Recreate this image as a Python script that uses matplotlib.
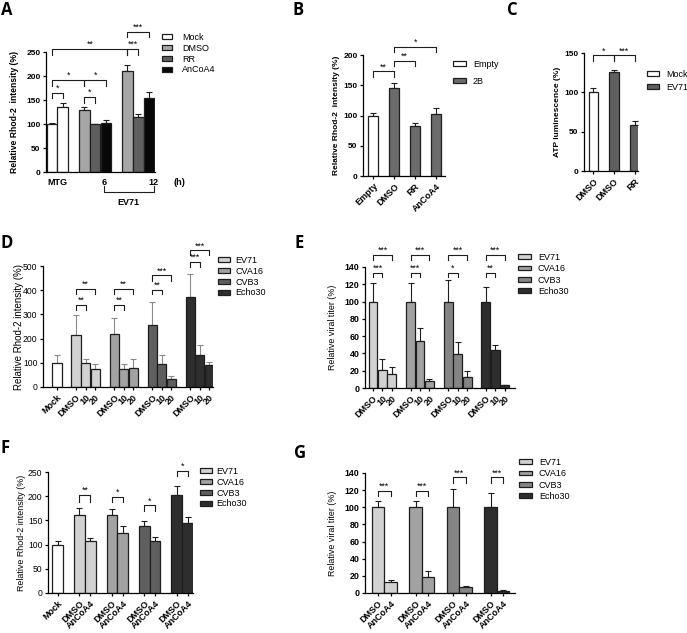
import numpy as np
import matplotlib
matplotlib.use("Agg")
import matplotlib.pyplot as plt
from matplotlib.patches import Patch
from matplotlib import transforms

plt.rcParams['font.family'] = ['Liberation Sans', 'DejaVu Sans']

W, H = 687, 633
fig = plt.figure(figsize=(W / 100, H / 100), dpi=100)

# ---------------- data ----------------
# A : Rhod-2, MTG / EV71 time course
a_groups = [['Mock', 'Mock'], ['DMSO', 'RR', 'AnCoA4'], ['DMSO', 'RR', 'AnCoA4']]
a_vals = [100, 136, 130, 99, 103, 211, 114, 155]
a_err = [2, 8, 6, 2, 5, 11, 6, 12]
a_legend = ['Mock', 'DMSO', 'RR', 'AnCoA4']
a_xlabels = ['MTG', '6', '12']

# B : 2B overexpression
b_labels = ['Empty', 'DMSO', 'RR', 'AnCoA4']
b_vals = [100, 146, 82, 102]
b_err = [4, 7, 6, 10]
b_legend = ['Empty', '2B']

# C : ATP
c_labels = ['DMSO', 'DMSO', 'RR']
c_vals = [100, 126, 59]
c_err = [5, 2.5, 4]
c_legend = ['Mock', 'EV71']

viruses = ['EV71', 'CVA16', 'CVB3', 'Echo30']

# D : Rhod-2, RR dose
d_labels = ['Mock'] + ['DMSO', '10', '20'] * 4
d_mock, d_mock_err = 100, 33
d_vals = [[213, 100, 76], [220, 76, 80], [258, 96, 32], [372, 131, 92]]
d_err = [[83, 17, 18], [66, 20, 37], [93, 35, 13], [94, 44, 11]]

# E : viral titer, RR dose
e_labels = ['DMSO', '10', '20'] * 4
e_vals = [[100, 21, 16], [100, 54, 8], [100, 39, 13], [100, 44, 3]]
e_err = [[21, 13, 8], [21, 15, 2], [25, 14, 7], [17, 6, 1]]

# F : Rhod-2, AnCoA4
f_labels = ['Mock'] + ['DMSO', 'AnCoA4'] * 4
f_mock, f_mock_err = 100, 7
f_vals = [[162, 107], [162, 124], [138, 107], [202, 145]]
f_err = [[14, 7], [11, 14], [11, 9], [20, 13]]

# G : viral titer, AnCoA4
g_labels = ['DMSO', 'AnCoA4'] * 4
g_vals = [[100, 13], [100, 19], [100, 6.6], [100, 2]]
g_err = [[7, 2.5], [7, 7], [21, 2], [17, 1]]

# significance: (bar i, bar j, bracket y, leg y, text)
a_sig = [(0, 5, 256, 244, '**'), (5, 7, 292, 281, '***'), (5, 6, 256, 244, '***'),
         (0, 2, 192, 179, '*'), (2, 4, 192, 179, '*'),
         (0, 1, 165, 154, '*'), (2, 3, 156, 144, '*')]
b_sig = [(0, 1, 173, 164, '**'), (1, 2, 190, 182, '**'), (1, 3, 213, 205, '*')]
c_sig = [(0, 1, 147, 140, '*'), (1, 2, 147, 140, '***')]
d_sig = [(340, 320, '**', 404, 383, '**'), (340, 320, '**', 404, 383, '**'),
         (402, 383, '**', 461, 438, '***'), (517, 496, '***', 565, 544, '***')]
e_sig = [(133, 128, '***', 154, 148, '***'), (133, 128, '***', 154, 148, '***'),
         (133, 128, '*', 154, 148, '***'), (133, 128, '**', 154, 148, '***')]
f_sig = [(202, 189, '**'), (198, 187, '*'), (181, 169, '*'), (252, 241, '*')]
g_sig = [(119, 113, '***'), (119, 113, '***'), (135, 128, '***'), (135, 128, '***')]

# ---------------- styles ----------------
a_colors = {'Mock': 'white', 'DMSO': '#a6a6a6', 'RR': '#5f5f5f', 'AnCoA4': '#080808'}
vc_dark = ['#d2d2d2', '#a2a2a2', '#5f5f5f', '#2e2e2e']
vc_light = ['#d2d2d2', '#a2a2a2', '#858585', '#2e2e2e']
EDGE = '#1e1e1e'


def box(l, t, r, b):
    return [l / W, 1 - b / H, (r - l) / W, (b - t) / H]


def positions(sizes):
    pos, x = [], 0
    for n in sizes:
        pos += list(range(x, x + n))
        x += n + 1
    return pos


def style(ax, ylim, step, fs=6, weight='bold'):
    for s in ['top', 'right']:
        ax.spines[s].set_visible(False)
    ax.spines['left'].set_linewidth(0.9)
    ax.spines['bottom'].set_linewidth(0.9)
    ax.spines['left'].set_bounds(0, ylim)
    ax.set_ylim(0, ylim)
    ax.set_yticks(np.arange(0, ylim + 1, step))
    ax.tick_params(width=0.9, length=2.5, labelsize=fs, pad=1.5)
    for lab in ax.get_yticklabels():
        lab.set_fontweight(weight)


def bars(ax, pos, vals, err, colors, width, ecolor=EDGE):
    ax.bar(pos, vals, width, color=colors, edgecolor=EDGE, linewidth=0.9, zorder=2)
    ax.errorbar(pos, vals, yerr=[np.zeros(len(err)), err], fmt='none', ecolor=ecolor,
                elinewidth=0.8, capsize=2.2, capthick=0.8, zorder=1)


def sig(ax, x1, x2, y, leg, txt, fs=6.3):
    ax.plot([x1, x1, x2, x2], [leg, y, y, leg], color=EDGE, lw=0.8, clip_on=False)
    ax.text((x1 + x2) / 2, y, txt, ha='center', va='bottom', fontsize=fs, clip_on=False)


def legend(ax, labels, colors, x, y, spacing, hl=1.4, tp=0.7, fs=6.5):
    handles = [Patch(facecolor=c, edgecolor=EDGE, linewidth=0.9) for c in colors]
    ax.legend(handles, labels, loc='upper left', bbox_to_anchor=(x / W, 1 - y / H),
              bbox_transform=fig.transFigure, frameon=False, fontsize=fs,
              handlelength=hl, handleheight=0.45, handletextpad=tp,
              labelspacing=spacing, borderpad=0, borderaxespad=0)


def xlabels(ax, pos, labels, fs=6.5):
    ax.set_xticks(pos)
    ax.set_xticklabels(labels, rotation=45, ha='right', rotation_mode='anchor',
                       fontsize=fs, fontweight='bold')


def ylabel(ax, text, xpix, l, w, fs=6, weight='bold'):
    ax.set_ylabel(text, fontsize=fs, fontweight=weight)
    ax.yaxis.set_label_coords((xpix + 4 - l) / w, 0.5)


def letter(txt, x, y):
    fig.text(x / W, 1 - y / H, txt, fontsize=12, fontweight='bold',
             family=['Open Sans', 'DejaVu Sans'], va='top', ha='left')


# ---------------- A ----------------
ax = fig.add_axes(box(46, 52, 155, 172))
pos = positions([len(g) for g in a_groups])
cols = [a_colors[k] for g in a_groups for k in g]
bars(ax, pos, a_vals, a_err, cols, 0.98)
style(ax, 250, 50)
ax.set_xlim(-0.55, 9.55)
ax.set_xticks([0.5, 4.8, 9.45])
ax.set_xticklabels(a_xlabels, fontsize=6.5, fontweight='bold')
ax.tick_params(axis='x', length=0, pad=4)
tr = transforms.blended_transform_factory(ax.transData, ax.transAxes)
ax.text(11.85, -0.085, '(h)', transform=tr, ha='center', va='center', fontsize=6.5, fontweight='bold')
ax.plot([4.8, 4.8, 9.45, 9.45], [-0.115, -0.165, -0.165, -0.115], transform=tr,
        color=EDGE, lw=0.8, clip_on=False)
ax.text(7.12, -0.25, 'EV71', transform=tr, ha='center', va='center', fontsize=6.5, fontweight='bold')
for i, j, y, lg, t in a_sig:
    sig(ax, pos[i], pos[j], y, lg, t)
ylabel(ax, 'Relative Rhod-2  intensity (%)', 15, 46, 109, 6.2)
legend(ax, a_legend, [a_colors[k] for k in a_legend], 162, 33, 0.2, hl=1.1, tp=1.1)
letter('A', 1, 1)

# ---------------- B ----------------
ax = fig.add_axes(box(363, 55, 445, 176))
pos = np.arange(len(b_labels))
bars(ax, pos, b_vals, b_err, ['white'] + ['#6b6b6b'] * 3, 0.48)
style(ax, 200, 50)
ax.set_xlim(-0.48, 3.43)
xlabels(ax, pos, b_labels)
for i, j, y, lg, t in b_sig:
    sig(ax, pos[i], pos[j], y, lg, t)
ylabel(ax, 'Relative Rhod-2  intensity (%)', 336, 363, 82, 6.0)
legend(ax, b_legend, ['white', '#6b6b6b'], 453, 60, 0.9, hl=1.4, tp=0.8)
letter('B', 293, 1)

# ---------------- C ----------------
ax = fig.add_axes(box(584, 53, 638, 171))
pos = np.arange(len(c_labels))
bars(ax, pos, c_vals, c_err, ['white', '#5f5f5f', '#5f5f5f'], 0.48)
style(ax, 150, 50)
ax.set_xlim(-0.46, 2.17)
xlabels(ax, pos, c_labels)
for i, j, y, lg, t in c_sig:
    sig(ax, pos[i], pos[j], y, lg, t)
ylabel(ax, 'ATP luminescence (%)', 557, 584, 54, 6.0)
legend(ax, c_legend, ['white', '#5f5f5f'], 647, 70, 0.4, hl=1.3, tp=0.8)
letter('C', 507, 1)

# ---------------- D ----------------
ax = fig.add_axes(box(43, 266, 213, 387))
pos = positions([1, 3, 3, 3, 3])
vals = [d_mock] + [v for g in d_vals for v in g]
errs = [d_mock_err] + [e for g in d_err for e in g]
cols = ['white'] + [c for c in vc_dark for _ in range(3)]
bars(ax, pos, vals, errs, cols, 0.95, ecolor='#8a8a8a')
style(ax, 500, 100, fs=6.2, weight='normal')
ax.set_xlim(-1.47, 16.4)
xlabels(ax, pos, d_labels)
for g, (y1, l1, t1, y2, l2, t2) in enumerate(d_sig):
    p = pos[1 + 3 * g]
    sig(ax, p, p + 1, y1, l1, t1)
    sig(ax, p, p + 2, y2, l2, t2)
ylabel(ax, 'Relative Rhod-2 intensity (%)', 20, 43, 170, 7.0, weight='normal')
legend(ax, viruses, vc_dark, 218, 256, 0.2, hl=1.3, tp=0.6)
letter('D', 1, 234)

# ---------------- E ----------------
ax = fig.add_axes(box(365, 267, 515, 388))
pos = positions([3, 3, 3, 3])
vals = [v for g in e_vals for v in g]
errs = [e for g in e_err for e in g]
cols = [c for c in vc_light for _ in range(3)]
bars(ax, pos, vals, errs, cols, 0.95)
style(ax, 140, 20, fs=6.4)
ax.set_xlim(-0.85, 15.1)
xlabels(ax, pos, e_labels)
for g, (y1, l1, t1, y2, l2, t2) in enumerate(e_sig):
    p = pos[3 * g]
    sig(ax, p, p + 1, y1, l1, t1)
    sig(ax, p, p + 2, y2, l2, t2)
ylabel(ax, 'Relative viral titer (%)', 333, 365, 150, 6.4, weight='normal')
legend(ax, viruses, vc_light, 518, 253, 0.25, hl=1.4, tp=0.8)
letter('E', 294, 234)

# ---------------- F ----------------
ax = fig.add_axes(box(48, 472, 193, 593))
pos = positions([1, 2, 2, 2, 2])
vals = [f_mock] + [v for g in f_vals for v in g]
errs = [f_mock_err] + [e for g in f_err for e in g]
cols = ['white'] + [c for c in vc_dark for _ in range(2)]
bars(ax, pos, vals, errs, cols, 0.98)
style(ax, 250, 50, fs=6.2, weight='normal')
ax.set_xlim(-0.9, 12.5)
xlabels(ax, pos, f_labels)
for g, (y, lg, t) in enumerate(f_sig):
    p = pos[1 + 2 * g]
    sig(ax, p, p + 1, y, lg, t)
ylabel(ax, 'Relative Rhod-2 intensity (%)', 22, 48, 145, 6.4, weight='normal')
legend(ax, viruses, vc_dark, 200, 467, 0.2, hl=1.3, tp=0.5)
letter('F', 1, 439)

# ---------------- G ----------------
ax = fig.add_axes(box(365, 473, 515, 593))
pos = positions([2, 2, 2, 2])
vals = [v for g in g_vals for v in g]
errs = [e for g in g_err for e in g]
cols = [c for c in vc_light for _ in range(2)]
bars(ax, pos, vals, errs, cols, 0.98)
style(ax, 140, 20, fs=6.4)
ax.set_xlim(-1.04, 10.96)
xlabels(ax, pos, g_labels)
for g, (y, lg, t) in enumerate(g_sig):
    p = pos[2 * g]
    sig(ax, p, p + 1, y, lg, t)
ylabel(ax, 'Relative viral titer (%)', 333, 365, 150, 6.4, weight='normal')
legend(ax, viruses, vc_light, 519, 458, 0.25, hl=1.4, tp=0.8)
letter('G', 294, 444)

fig.savefig('out.png', dpi=100)
